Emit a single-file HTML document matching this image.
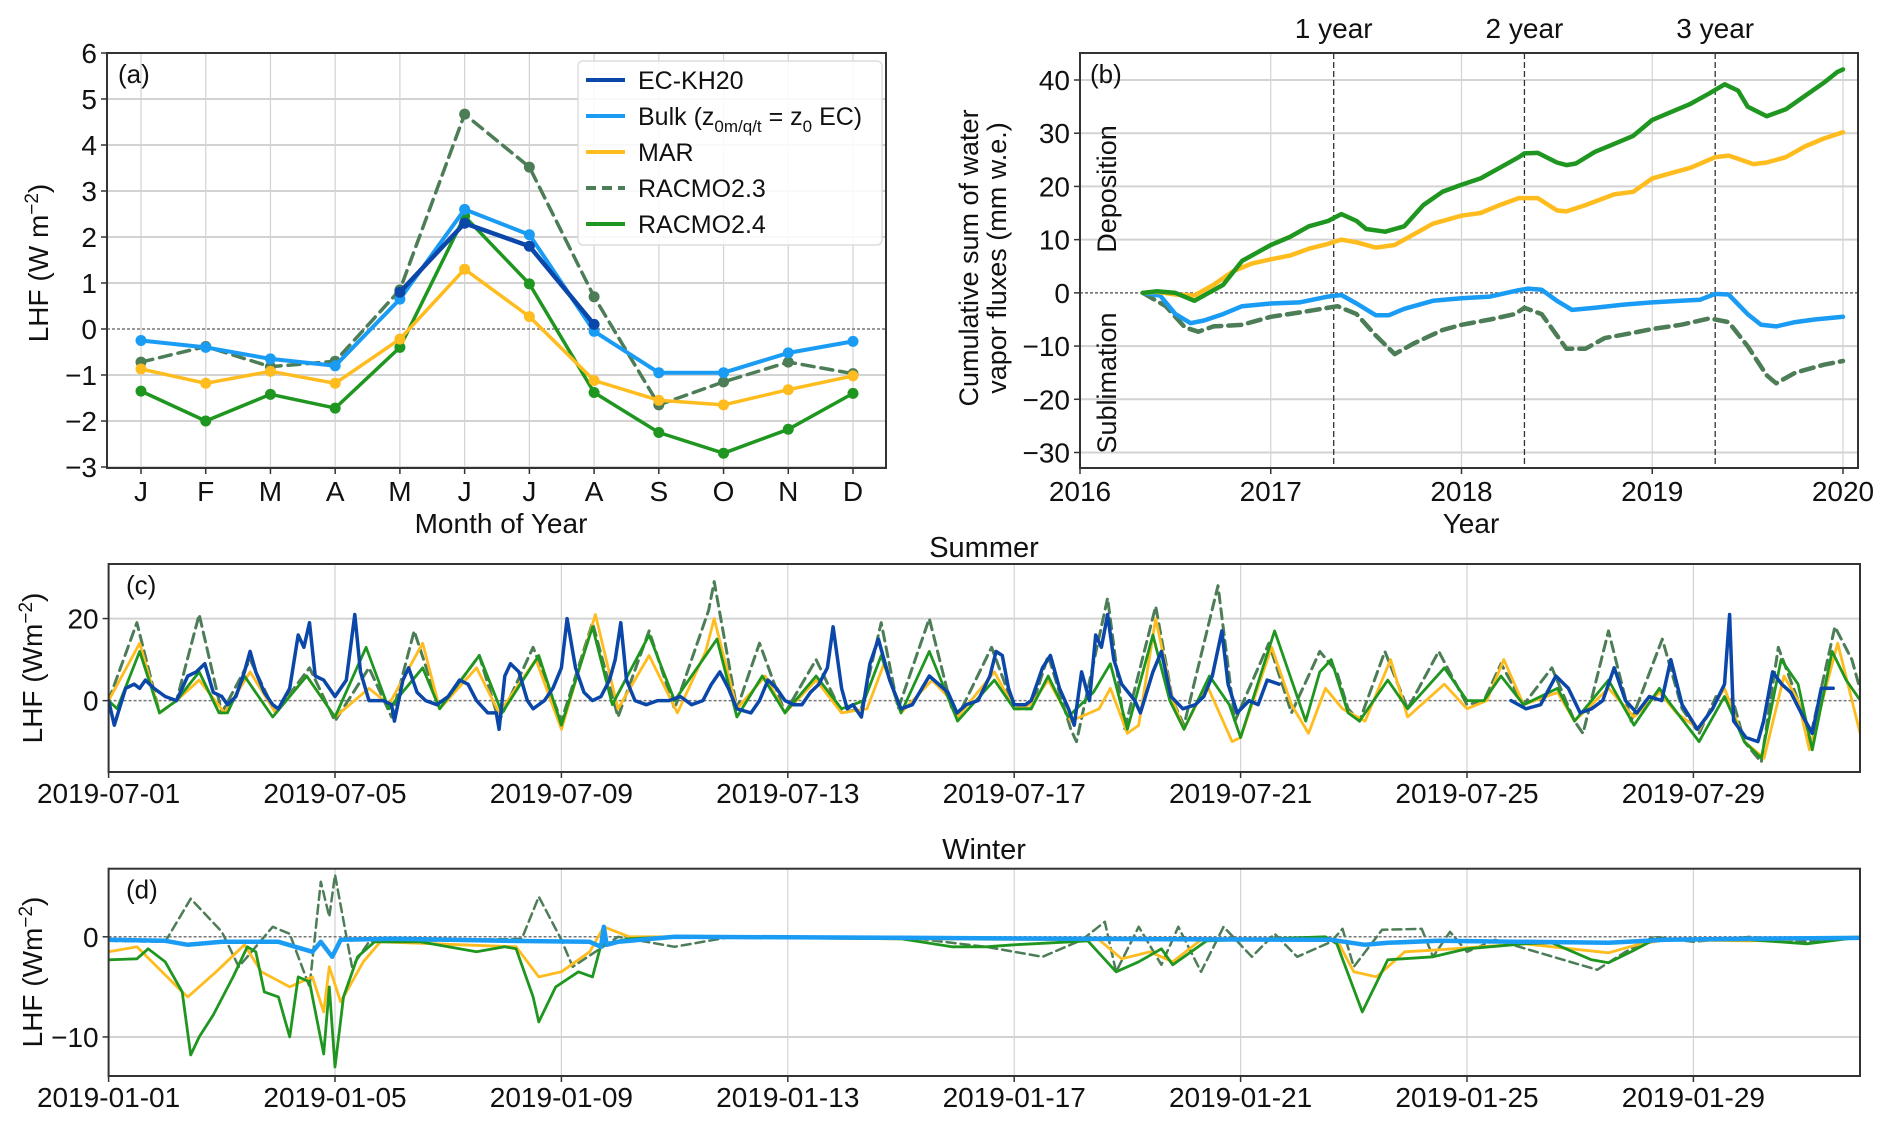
<!DOCTYPE html>
<html><head><meta charset="utf-8">
<style>
html,body{margin:0;padding:0;background:#fff;}
svg{display:block;font-family:"Liberation Sans","DejaVu Sans",sans-serif;}
</style></head>
<body>
<svg id="fig" width="1892" height="1126" viewBox="0 0 1892 1126" xmlns="http://www.w3.org/2000/svg"></svg>
<script>
// ---------- Panel (a) data ----------
const months = ["J","F","M","A","M","J","J","A","S","O","N","D"];
const aEC    = [null,null,null,null,0.8,2.3,1.8,0.1,null,null,null,null];
const aBulk  = [-0.25,-0.4,-0.65,-0.8,0.65,2.6,2.05,-0.05,-0.95,-0.95,-0.52,-0.27];
const aMAR   = [-0.87,-1.18,-0.92,-1.18,-0.22,1.3,0.27,-1.12,-1.55,-1.65,-1.32,-1.02];
const aR23   = [-0.72,-0.38,-0.82,-0.7,0.85,4.67,3.52,0.7,-1.65,-1.15,-0.72,-0.97];
const aR24   = [-1.35,-2.0,-1.42,-1.72,-0.4,2.45,0.98,-1.38,-2.25,-2.7,-2.18,-1.4];
const aYTicks = [-3,-2,-1,0,1,2,3,4,5,6];

// ---------- Panel (b) data ----------
const bR24t = [2016.33,2016.4,2016.5,2016.6,2016.75,2016.85,2017.0,2017.1,2017.2,2017.3,2017.37,2017.45,2017.5,2017.6,2017.7,2017.8,2017.9,2018.0,2018.1,2018.2,2018.3,2018.33,2018.4,2018.5,2018.55,2018.6,2018.7,2018.8,2018.9,2019.0,2019.1,2019.2,2019.3,2019.38,2019.45,2019.5,2019.6,2019.7,2019.8,2019.9,2019.97,2020.0];
const bR24v = [0,0.3,0,-1.5,1.5,6,9,10.5,12.5,13.5,14.8,13.5,12,11.5,12.5,16.5,19,20.3,21.5,23.5,25.5,26.2,26.3,24.5,24,24.3,26.5,28,29.5,32.5,34,35.5,37.5,39.2,38,35,33.2,34.5,37,39.5,41.5,42];
const bMARt = [2016.33,2016.4,2016.5,2016.6,2016.7,2016.8,2016.9,2017.0,2017.1,2017.2,2017.3,2017.37,2017.45,2017.55,2017.65,2017.75,2017.85,2018.0,2018.1,2018.2,2018.3,2018.4,2018.5,2018.55,2018.65,2018.8,2018.9,2019.0,2019.1,2019.2,2019.33,2019.4,2019.45,2019.53,2019.6,2019.7,2019.8,2019.9,2020.0];
const bMARv = [0,0.2,-0.3,-0.5,1.5,4,5.5,6.3,7,8.3,9.2,10,9.5,8.5,9,11,13,14.5,15,16.5,17.8,17.8,15.5,15.3,16.5,18.5,19,21.5,22.5,23.5,25.5,25.8,25.2,24.2,24.5,25.5,27.5,29,30.2];
const bBulkt = [2016.33,2016.42,2016.5,2016.58,2016.65,2016.75,2016.85,2017.0,2017.15,2017.3,2017.37,2017.45,2017.55,2017.62,2017.7,2017.85,2018.0,2018.15,2018.3,2018.35,2018.42,2018.5,2018.58,2018.7,2018.85,2019.0,2019.15,2019.25,2019.33,2019.4,2019.5,2019.57,2019.65,2019.75,2019.85,2020.0];
const bBulkv = [0,-0.5,-4,-5.7,-5.2,-4,-2.5,-2,-1.8,-0.7,-0.4,-2,-4.2,-4.2,-3,-1.5,-1,-0.7,0.5,0.8,0.6,-1.5,-3.2,-2.8,-2.2,-1.8,-1.5,-1.3,-0.2,-0.3,-4,-6,-6.3,-5.5,-5,-4.5];
const bR23t = [2016.33,2016.45,2016.55,2016.62,2016.7,2016.85,2017.0,2017.15,2017.35,2017.45,2017.55,2017.65,2017.75,2017.9,2018.0,2018.15,2018.28,2018.33,2018.42,2018.5,2018.55,2018.65,2018.75,2018.9,2019.0,2019.15,2019.3,2019.4,2019.5,2019.6,2019.65,2019.75,2019.9,2020.0];
const bR23v = [0,-2.5,-6.5,-7.3,-6.3,-6,-4.5,-3.7,-2.5,-4,-8,-11.5,-9.5,-7,-6,-5,-4,-2.8,-4,-8,-10.5,-10.5,-8.5,-7.5,-6.8,-6,-4.8,-5.5,-10,-15.5,-17,-15,-13.5,-12.8];
const bYTicks = [-30,-20,-10,0,10,20,30,40];
const bXTicks = [2016,2017,2018,2019,2020];
const bMarks = [2017.33,2018.33,2019.33];
const bMarkLabels = ["1 year","2 year","3 year"];

// ---------- Panel (c) summer data (day since 2019-07-01) ----------
const cECt = [0,0.1,0.3,0.45,0.55,0.65,0.8,1.0,1.2,1.4,1.55,1.7,1.85,2.0,2.1,2.25,2.4,2.5,2.6,2.75,2.9,3.0,3.2,3.35,3.45,3.55,3.65,3.8,4.0,4.2,4.35,4.45,4.6,4.85,5.0,5.05,5.2,5.3,5.45,5.6,5.8,6.0,6.2,6.35,6.5,6.7,6.85,6.9,7.0,7.1,7.25,7.4,7.5,7.7,7.85,8.0,8.1,8.25,8.4,8.55,8.7,8.85,8.95,9.05,9.15,9.3,9.5,9.7,9.9,10.1,10.3,10.5,10.65,10.8,10.95,11.1,11.35,11.5,11.65,11.8,11.95,12.1,12.25,12.4,12.55,12.7,12.8,12.95,13.05,13.15,13.3,13.45,13.6,13.8,14.0,14.2,14.5,14.83,14.99,15.15,15.36,15.57,15.68,15.79,15.9,16.0,16.2,16.3,16.5,16.64,16.8,16.96,17.06,17.19,17.33,17.44,17.54,17.65,17.76,17.9,18.13,18.23,18.45,18.6,18.77,18.98,19.2,19.35,19.5,19.67,19.78,19.94,20.15,20.31,20.47,20.68,null,24.78,25.04,25.3,25.57,25.79,26.0,26.2,26.4,26.6,26.8,27.0,27.22,27.44,27.6,27.8,28.07,28.34,28.55,28.64,28.71,28.93,29.14,29.24,29.4,29.56,29.72,29.94,30.1,30.26,30.47];
const cECv = [0,-6,3,4,3,5,3,1,0,6,7,9,2,1,-1,1,7,12,7,2,-1,-2,3,16,13,19,6,5,1,5,21,7,0,0,-1,-5,5,8,2,0,-1,1,5,4,0,-3,-3,-7,6,9,7,0,-2,0,3,8,20,8,2,0,1,5,10,19,5,0,-1,0,0,1,-1,0,4,7,3,-2,-3,0,5,3,0,-1,-1,2,4,8,18,3,-2,-1,-4,9,15,5,-2,-1,6,2,-3,-1,0,6,12,11,3,-1,-1,0,8,11,3,-2,-6,7,0,16,13,21,10,4,0,-3,7,12,1,-2,-1,1,6,17,4,-3,0,-1,5,4,null,0,-2,-1,6,3,-3,-2,0,8,0,-3,1,0,10,-1,-7,-2,4,21,-5,-9,-10,-5,7,4,2,-4,-8,3,3];
const cR24t = [0,0.15,0.55,0.9,1.2,1.6,1.95,2.1,2.4,2.9,3.5,4.0,4.55,4.95,5.55,5.85,6.55,6.95,7.6,8.0,8.55,8.9,9.55,10.0,10.5,10.75,11.1,11.55,11.95,12.5,12.95,13.35,13.65,14.0,14.5,15.0,15.65,16.0,16.3,16.6,16.95,17.4,17.7,18.0,18.45,18.75,19.0,19.45,19.8,20.0,20.6,20.9,21.15,21.4,21.6,21.9,22.1,22.6,22.95,23.6,24.0,24.3,24.6,25.0,25.6,25.9,26.5,26.95,27.4,27.55,28.1,28.55,28.9,29.2,29.55,29.85,30.1,30.45,30.7,30.95];
const cR24v = [0,-2,12,-3,0,7,-3,-3,6,-4,6,-4,13,-2,8,-2,11,-3,11,-6,18,-1,16,0,10,15,-4,6,-3,6,-2,0,11,-3,12,-5,5,-2,-2,6,-4,2,9,-7,16,0,-7,6,-1,-9,17,5,-5,7,10,-3,-5,5,-2,8,0,0,6,-1,3,-5,5,-6,3,0,-10,1,-10,-14,10,4,-12,12,5,0];
const cMARt = [0,0.55,0.9,1.2,1.6,2.05,2.5,2.95,3.5,4.0,4.6,4.95,5.55,5.85,6.5,6.9,7.55,8.0,8.6,9.0,9.55,10.05,10.55,10.7,11.1,11.6,11.95,12.5,12.95,13.4,13.7,14.0,14.55,14.9,15.0,15.65,16.0,16.3,16.6,17.0,17.5,17.7,18.0,18.2,18.5,18.8,19.0,19.4,19.85,20.0,20.55,20.9,21.2,21.5,21.8,22.2,22.65,22.95,23.6,24.0,24.35,24.65,25.0,25.6,25.9,26.5,26.95,27.4,27.7,28.1,28.55,28.9,29.25,29.6,29.85,30.05,30.55,31.0];
const cMARv = [0,14,-3,0,5,-3,7,-3,6,-4,3,-1,14,-2,8,-3,10,-7,21,-2,11,-3,12,20,-2,6,-3,5,-3,-2,9,-3,5,0,-4,7,-2,-1,5,-5,-2,3,-8,-6,20,0,-7,4,-10,-9,13,-1,-8,3,-2,-5,10,-4,4,-2,0,10,-1,2,-5,3,-4,2,-3,-7,3,-10,-14,6,0,-12,14,-11];
const cR23t = [0,0.5,0.9,1.2,1.6,2.0,2.5,2.95,3.55,4.0,4.6,5.0,5.4,5.85,6.55,6.9,7.5,8.0,8.55,9.0,9.55,10.0,10.6,10.7,11.1,11.5,11.95,12.5,12.95,13.3,13.65,13.95,14.5,14.9,15.0,15.6,16.0,16.3,16.6,17.0,17.1,17.65,17.95,18.5,18.8,19.0,19.6,19.9,20.5,20.9,21.4,21.7,21.9,22.1,22.55,22.95,23.5,24.0,24.3,24.6,25.0,25.5,25.9,26.05,26.5,26.9,27.45,27.8,28.1,28.4,28.7,28.9,29.2,29.5,29.85,30.05,30.5,30.8,31.0];
const cR23v = [0,19,-3,0,21,-3,10,-3,8,-5,8,-4,17,-2,11,-5,13,-5,19,-4,17,-2,22,29,-2,14,-3,10,-3,-2,19,-2,20,-2,-4,13,-2,-2,11,-7,-10,25,-7,23,0,-6,28,-5,14,-3,12,7,-2,-5,12,-2,12,-1,0,9,-1,8,-5,-8,17,-5,15,-2,-8,1,0,-10,-15,13,0,-10,18,10,0];
const cYTicks = [0,20];
const cXTicks = [0,4,8,12,16,20,24,28];
const cXLabels = ["2019-07-01","2019-07-05","2019-07-09","2019-07-13","2019-07-17","2019-07-21","2019-07-25","2019-07-29"];

// ---------- Panel (d) winter data (day since 2019-01-01) ----------
const dBulkt = [0,1.0,1.4,2.0,3.0,3.6,3.75,3.95,4.1,5,7,8.5,8.7,8.75,8.8,9.0,10,14,17,21.6,22.2,22.6,23.5,26.5,27.5,29,31];
const dBulkv = [-0.3,-0.4,-0.8,-0.5,-0.5,-1.5,-0.5,-2,-0.3,-0.2,-0.4,-0.5,-1,1,-0.8,-0.5,0,-0.1,-0.2,-0.3,-0.8,-0.6,-0.4,-0.6,-0.3,-0.2,-0.1];
const dR24t = [0,0.5,0.7,1.0,1.3,1.45,1.6,1.85,2.2,2.45,2.6,2.75,3.0,3.2,3.35,3.55,3.8,3.9,4.0,4.15,4.4,4.7,5.5,6.5,7.0,7.2,7.5,7.6,7.9,8.3,8.55,8.7,9.2,10,14,14.9,15.5,16,17.0,17.3,17.8,18.2,18.6,18.8,19.4,20.5,21.5,21.7,22.15,22.6,23.4,24.0,25.0,25.5,26.2,26.5,26.9,27.3,28,29,30.0,31];
const dR24v = [-2.3,-2.2,-1.2,-2.5,-5.5,-11.8,-10,-7.8,-4,-1,-1.5,-5.5,-6,-10,-4,-4.5,-11.7,-5,-13,-6,-2,-0.5,-0.5,-1.5,-1,-1.2,-6,-8.5,-5,-3.5,-4,-0.8,-0.2,0,-0.2,-1,-1,-0.8,-0.5,-0.4,-3.5,-2.5,-1.2,-2.8,-0.4,-0.2,0,-0.7,-7.5,-2.3,-2.0,-1.2,-0.7,-0.6,-2.3,-2.6,-1.5,-0.3,-0.3,-0.3,-0.7,0];
const dMARt = [0,0.5,1.3,1.4,1.9,2.4,2.7,3.2,3.6,3.8,3.9,4.1,4.5,4.8,7.2,7.6,8.0,8.5,8.75,9.2,10,14,17.5,17.9,18.4,18.8,19.3,21.7,22.0,22.4,22.9,23.5,25,26.5,27.0,27.5,29,31];
const dMARv = [-1.5,-1,-5.5,-6,-3.5,-0.8,-3.5,-5,-4,-7.5,-3,-6.5,-2.5,-0.5,-1,-4,-3.5,-1.5,1,0,0,-0.2,-0.3,-2.2,-1.5,-2.5,-0.3,-0.3,-3.5,-4,-1.5,-1.3,-0.7,-1.6,-0.8,-0.3,-0.4,0];
const dR23t = [0,1.0,1.45,2.0,2.3,2.9,3.2,3.55,3.75,3.9,4.0,4.3,4.6,7.3,7.6,8.0,8.2,8.6,9.0,10,11,14,15.5,16.5,17.2,17.6,17.8,18.2,18.6,18.9,19.3,19.7,20.2,20.6,21.0,21.6,21.8,22.0,22.5,23.2,23.4,23.7,24.0,24.5,26.3,26.8,27.3,28,29,30,31];
const dR23v = [-0.4,-0.5,3.8,0.5,-3,1,0.3,-5,5.5,2,6.2,-3,-0.5,-0.2,4,-0.3,-3,-1.5,0,-1,0,0,-1,-2,-0.3,1.5,-3.5,1,-2.8,1,-3.5,1,-2,0.3,-2,-0.5,0.8,-3,0.7,0.8,-2,0.5,-1.5,-0.3,-3.3,-1.5,0,-0.5,0,-0.5,0];
const dYTicks = [-10,0];
const dXTicks = [0,4,8,12,16,20,24,28];
const dXLabels = ["2019-01-01","2019-01-05","2019-01-09","2019-01-13","2019-01-17","2019-01-21","2019-01-25","2019-01-29"];

const C = {ec:"#0b47a8", bulk:"#1a9cf5", mar:"#ffbc1f", r23:"#4c7d56", r24:"#1f961f", grid:"#d3d3d3"};
const NS = "http://www.w3.org/2000/svg";
const svg = document.getElementById("fig");
function mk(tag, attrs, parent){
  const e = document.createElementNS(NS, tag);
  for (const k in attrs) e.setAttribute(k, attrs[k]);
  (parent||svg).appendChild(e);
  return e;
}
function txt(s, x, y, size, anchor, parent, extra){
  const t = mk("text", Object.assign({x:x, y:y, "font-size":size, "text-anchor":anchor||"middle", fill:"#111"}, extra||{}), parent);
  t.textContent = s;
  return t;
}
function linScale(d0,d1,r0,r1){ return v => r0 + (v-d0)*(r1-r0)/(d1-d0); }
function pathD(xs, ys, sx, sy){
  let d = "", pen = false;
  for (let i=0;i<xs.length;i++){
    if (xs[i]===null || ys[i]===null){ pen=false; continue; }
    d += (pen?"L":"M") + sx(xs[i]).toFixed(1) + "," + sy(ys[i]).toFixed(1);
    pen = true;
  }
  return d;
}
let clipN = 0;
function panel(name, x0, y0, x1, y1){
  const g = mk("g", {});
  
  
  const id = "clip" + (clipN++);
  const cp = mk("clipPath", {id:id}, g);
  mk("rect", {x:x0, y:y0, width:x1-x0, height:y1-y0}, cp);
  const inner = mk("g", {"clip-path":"url(#"+id+")"}, g);
  return {g:g, inner:inner, frame:()=>{ const f = mk("rect",{x:x0,y:y0,width:x1-x0,height:y1-y0,fill:"none",stroke:"#333","stroke-width":2},g);
      }};
}
function series(parent, name, xs, ys, sx, sy, color, width, dash){
  const p = mk("path", {d:pathD(xs,ys,sx,sy), fill:"none", stroke:color, "stroke-width":width, "stroke-linejoin":"round", "stroke-linecap":"round"}, parent);
  if (dash) p.setAttribute("stroke-dasharray", dash);
  
  
  return p;
}
const TF = 28;

// ================= Panel (a) =================
(function(){
  const X0=107,X1=886,Y0=53,Y1=468;
  const sx = linScale(0,11,141,853), sy = linScale(6,-3,53,467);
  const P = panel("panel-a", X0,Y0,X1,Y1);
  months.forEach((m,i)=>{ mk("line",{x1:sx(i),x2:sx(i),y1:Y0,y2:Y1,stroke:C.grid,"stroke-width":1.2},P.inner); });
  aYTicks.forEach(v=>{ if(v!==0) mk("line",{x1:X0,x2:X1,y1:sy(v),y2:sy(v),stroke:C.grid,"stroke-width":2},P.inner); });
  mk("line",{x1:X0,x2:X1,y1:sy(0),y2:sy(0),stroke:"#777","stroke-width":1.5,"stroke-dasharray":"3,2"},P.inner);
  const idx = months.map((m,i)=>i);
  const defs = [["r23-line-a",aR23,C.r23,3.5,"12,7"],["r24-line-a",aR24,C.r24,3.5,null],["mar-line-a",aMAR,C.mar,3.5,null],["bulk-line-a",aBulk,C.bulk,4,null],["ec-line-a",aEC,C.ec,4.5,null]];
  defs.forEach(d=>{
    series(P.inner,d[0],idx,d[1],sx,sy,d[2],d[3],d[4]);
    d[1].forEach((v,i)=>{ if(v===null) return;
      const c = mk("circle",{cx:sx(i),cy:sy(v),r:5.5,fill:d[2]},P.inner);
      
       });
  });
  P.frame();
  aYTicks.forEach(v=>{ mk("line",{x1:X0-6,x2:X0,y1:sy(v),y2:sy(v),stroke:"#333","stroke-width":1.5},P.g);
    const t=txt((v<0?"\u2212":"")+Math.abs(v), X0-10, sy(v)+10, TF, "end", P.g);   });
  months.forEach((m,i)=>{ mk("line",{x1:sx(i),x2:sx(i),y1:Y1,y2:Y1+6,stroke:"#333","stroke-width":1.5},P.g);
    const t=txt(m, sx(i), 501, TF, "middle", P.g);   });
  let t = txt("Month of Year", 501, 533, TF, "middle", P.g);  
  t = mk("text",{x:0,y:0,"font-size":TF,"text-anchor":"middle",transform:"translate(48,263) rotate(-90)",fill:"#111"},P.g);
  t.innerHTML = 'LHF (W m<tspan dy="-10" font-size="19">\u22122</tspan><tspan dy="10">)</tspan>';
   
  t = txt("(a)", 118, 83, 26, "start", P.g);  
  // legend
  const L = mk("g",{},P.g);  
  mk("rect",{x:578,y:61,width:304,height:184,rx:5,fill:"#fff","fill-opacity":0.85,stroke:"#ddd","stroke-width":1.5},L);
  const items=[["EC-KH20",C.ec,null],["Bulk",C.bulk,null],["MAR",C.mar,null],["RACMO2.3",C.r23,"10,6"],["RACMO2.4",C.r24,null]];
  items.forEach((it,i)=>{
    const y = 80 + i*36;
    const e = mk("g",{},L);  
    const ln = mk("line",{x1:586,x2:625,y1:y,y2:y,stroke:it[1],"stroke-width":4},e);
    if(it[2]) ln.setAttribute("stroke-dasharray",it[2]);
    const tt = mk("text",{x:638,y:y+9,"font-size":25,fill:"#111"},e);
    if(i===1) tt.innerHTML='Bulk (z<tspan dy="7" font-size="17">0m/q/t</tspan><tspan dy="-7"> = z</tspan><tspan dy="7" font-size="17">0</tspan><tspan dy="-7"> EC)</tspan>';
    else tt.textContent = it[0];
  });
})();

// ================= Panel (b) =================
(function(){
  const X0=1080,X1=1858,Y0=53,Y1=468;
  const sx = linScale(2016,2020,1080,1843), sy = linScale(40,-30,80,452.5);
  const P = panel("panel-b", X0,Y0,X1,Y1);
  bXTicks.forEach(v=>{ mk("line",{x1:sx(v),x2:sx(v),y1:Y0,y2:Y1,stroke:C.grid,"stroke-width":1.2},P.inner); });
  bYTicks.forEach(v=>{ if(v!==0) mk("line",{x1:X0,x2:X1,y1:sy(v),y2:sy(v),stroke:C.grid,"stroke-width":2},P.inner); });
  mk("line",{x1:X0,x2:X1,y1:sy(0),y2:sy(0),stroke:"#666","stroke-width":1.5,"stroke-dasharray":"3,2"},P.inner);
  bMarks.forEach(v=>{ const l=mk("line",{x1:sx(v),x2:sx(v),y1:Y0,y2:Y1,stroke:"#333","stroke-width":1.3,"stroke-dasharray":"6,3"},P.inner);
      });
  series(P.inner,"r23-line-b",bR23t,bR23v,sx,sy,C.r23,4.5,"13,7");
  series(P.inner,"bulk-line-b",bBulkt,bBulkv,sx,sy,C.bulk,4.5,null);
  series(P.inner,"mar-line-b",bMARt,bMARv,sx,sy,C.mar,4.5,null);
  series(P.inner,"r24-line-b",bR24t,bR24v,sx,sy,C.r24,4.5,null);
  P.frame();
  bYTicks.forEach(v=>{ mk("line",{x1:X0-6,x2:X0,y1:sy(v),y2:sy(v),stroke:"#333","stroke-width":1.5},P.g);
    const t=txt((v<0?"\u2212":"")+Math.abs(v), X0-10, sy(v)+10, TF, "end", P.g);   });
  bXTicks.forEach(v=>{ mk("line",{x1:sx(v),x2:sx(v),y1:Y1,y2:Y1+6,stroke:"#333","stroke-width":1.5},P.g);
    const t=txt(String(v), sx(v), 501, TF, "middle", P.g);   });
  bMarks.forEach((v,i)=>{ const t=txt(bMarkLabels[i], sx(v), 38, TF, "middle", P.g);   });
  let t = txt("Year", 1471, 533, TF, "middle", P.g);  
  t = txt("Cumulative sum of water", 0, 0, 27, "middle", P.g, {transform:"translate(978,258) rotate(-90)"});  
  t = txt("vapor fluxes (mm w.e.)", 0, 0, 27, "middle", P.g, {transform:"translate(1006,258) rotate(-90)"});  
  t = txt("Deposition", 0, 0, 27, "middle", P.g, {transform:"translate(1116,189) rotate(-90)"});  
  t = txt("Sublimation", 0, 0, 27, "middle", P.g, {transform:"translate(1116,383) rotate(-90)"});  
  t = txt("(b)", 1090, 83, 26, "start", P.g);  
})();

// ================= Panels (c) & (d) =================
function tsPanel(key, title, titleY, Y0, Y1, yTop, yBot, yTicks, xTicks, xLabels, lines, labelY, ytitleY){
  const X0=108.6, X1=1860;
  const sx = linScale(0,1,108.6,165.2), sy = linScale(yTop,yBot,Y0,Y1);
  const P = panel("panel-"+key, X0,Y0,X1,Y1);
  xTicks.forEach(v=>{ mk("line",{x1:sx(v),x2:sx(v),y1:Y0,y2:Y1,stroke:C.grid,"stroke-width":1.2},P.inner); });
  yTicks.forEach(v=>{ if(v!==0) mk("line",{x1:X0,x2:X1,y1:sy(v),y2:sy(v),stroke:C.grid,"stroke-width":2},P.inner); });
  mk("line",{x1:X0,x2:X1,y1:sy(0),y2:sy(0),stroke:"#777","stroke-width":1.5,"stroke-dasharray":"3,2"},P.inner);
  lines.forEach(l=>series(P.inner,l[0],l[1],l[2],sx,sy,l[3],l[4],l[5]));
  P.frame();
  yTicks.forEach(v=>{ mk("line",{x1:X0-6,x2:X0,y1:sy(v),y2:sy(v),stroke:"#333","stroke-width":1.5},P.g);
    const t=txt((v<0?"\u2212":"")+Math.abs(v), X0-10, sy(v)+10, TF, "end", P.g);   });
  xTicks.forEach((v,i)=>{ mk("line",{x1:sx(v),x2:sx(v),y1:Y1,y2:Y1+6,stroke:"#333","stroke-width":1.5},P.g);
    const t=txt(xLabels[i], sx(v), labelY, TF, "middle", P.g);   });
  let t = txt(title, 984, titleY, 29, "middle", P.g);  
  t = mk("text",{x:0,y:0,"font-size":TF,"text-anchor":"middle",transform:"translate(42,"+ytitleY+") rotate(-90)",fill:"#111"},P.g);
  t.innerHTML = 'LHF (Wm<tspan dy="-10" font-size="19">\u22122</tspan><tspan dy="10">)</tspan>';
   
  t = txt("("+key+")", 126, Y0+30, 26, "start", P.g);  
}
tsPanel("c","Summer",557,564,772,33.3,-17.4,cYTicks,cXTicks,cXLabels,[
  ["r23-line-c",cR23t,cR23v,C.r23,3,"10,6"],
  ["mar-line-c",cMARt,cMARv,C.mar,2.8,null],
  ["r24-line-c",cR24t,cR24v,C.r24,2.8,null],
  ["ec-line-c",cECt,cECv,C.ec,3.5,null]
],803,668);
tsPanel("d","Winter",859,868.7,1076,6.8,-13.9,dYTicks,dXTicks,dXLabels,[
  ["r23-line-d",dR23t,dR23v,C.r23,2.5,"9,5"],
  ["mar-line-d",dMARt,dMARv,C.mar,2.8,null],
  ["r24-line-d",dR24t,dR24v,C.r24,2.8,null],
  ["bulk-line-d",dBulkt,dBulkv,C.bulk,4.5,null]
],1107,972);
</script>
</body></html>
